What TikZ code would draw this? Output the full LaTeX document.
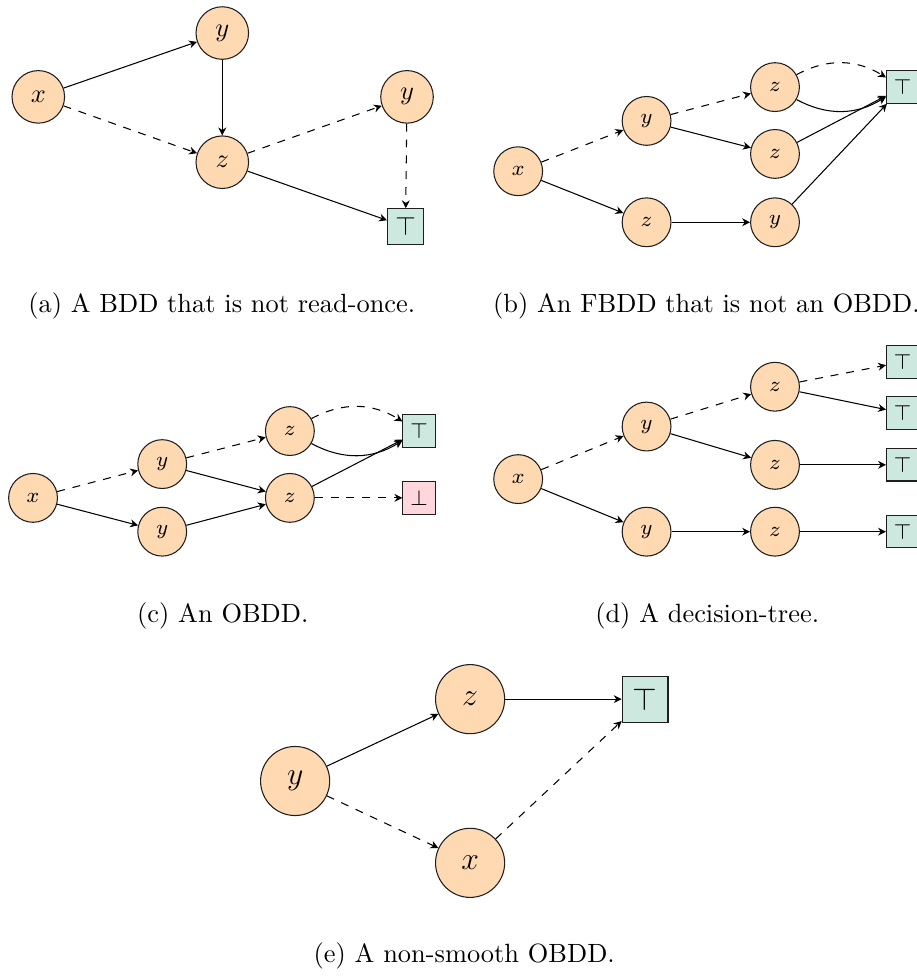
\documentclass[tikz,border=0pt]{standalone}
\usepackage{amsmath,amssymb}
\usepackage{xcolor}
\usepackage{tikz}
\usetikzlibrary{arrows.meta}
\definecolor{outline}{RGB}{30,30,30}
\definecolor{varfill}{RGB}{254,217,178}
\definecolor{topfill}{RGB}{204,232,223}
\definecolor{botfill}{RGB}{255,214,220}

\begin{document}
\begin{tikzpicture}[
  var/.style={circle,draw=outline,fill=varfill,inner sep=0pt,
              minimum size=0.65cm,font=\footnotesize},
  leaf/.style={rectangle,draw=outline,fill=topfill,inner sep=0pt,
               minimum size=0.43cm,font=\footnotesize},
  hi/.style={-{Stealth[length=3pt,width=3pt]}},
  lo/.style={-{Stealth[length=3pt,width=3pt]},dashed},
  caption/.style={anchor=base west,inner sep=0pt}
]
\useasboundingbox (0,0) rectangle (12.21,-13.05);
% (a) BDD, not read-once
\begin{scope}[var/.append style={minimum size=0.7cm,font=\normalsize},
              leaf/.append style={minimum size=0.48cm,font=\normalsize}]
  \node[var] (ax) at (0.51,-1.29) {$x$};
  \node[var] (ay) at (2.96,-0.44) {$y$};
  \node[var] (az) at (2.96,-2.16) {$z$};
  \node[var] (ay2) at (5.42,-1.29) {$y$};
  \node[leaf] (aT) at (5.40,-3.02) {$\top$};
  \draw[hi] (ax) -- (ay);
  \draw[lo] (ax) -- (az);
  \draw[hi] (ay) -- (az);
  \draw[lo] (az) -- (ay2);
  \draw[lo] (ay2) -- (aT);
  \draw[hi] (az) -- (aT);
\end{scope}
\node[caption] (capa) at (0.37,-4.16) {(a) A BDD that is not read-once.};
% (b) FBDD
\node[var] (bx) at (6.90,-2.28) {$x$};
\node[var] (by) at (8.61,-1.61) {$y$};
\node[var] (bz) at (8.61,-2.96) {$z$};
\node[var] (bz1) at (10.32,-1.16) {$z$};
\node[var] (bz2) at (10.32,-2.05) {$z$};
\node[var] (by2) at (10.32,-2.96) {$y$};
\node[leaf] (bT) at (12.02,-1.16) {$\top$};
\draw[lo] (bx) -- (by);
\draw[hi] (bx) -- (bz);
\draw[lo] (by) -- (bz1);
\draw[hi] (by) -- (bz2);
\draw[hi] (bz) -- (by2);
\draw[lo] (bz1) to[bend left=30] (bT);
\draw[hi] (bz1) to[bend right=30] (bT);
\draw[hi] (bz2) -- (bT);
\draw[hi] (by2) -- (bT);
\node[caption] (capb) at (6.56,-4.16) {(b) An FBDD that is not an OBDD.};
% (c) OBDD
\node[var] (cx) at (0.44,-6.63) {$x$};
\node[var] (cy1) at (2.16,-6.18) {$y$};
\node[var] (cy2) at (2.16,-7.08) {$y$};
\node[var] (cz1) at (3.86,-5.74) {$z$};
\node[var] (cz2) at (3.86,-6.63) {$z$};
\node[leaf] (cT) at (5.58,-5.74) {$\top$};
\node[leaf,fill=botfill] (cB) at (5.58,-6.63) {$\bot$};
\draw[lo] (cx) -- (cy1);
\draw[hi] (cx) -- (cy2);
\draw[lo] (cy1) -- (cz1);
\draw[hi] (cy1) -- (cz2);
\draw[hi] (cy2) -- (cz2);
\draw[lo] (cz1) to[bend left=30] (cT);
\draw[hi] (cz1) to[bend right=30] (cT);
\draw[hi] (cz2) -- (cT);
\draw[lo] (cz2) -- (cB);
\node[caption] (capc) at (1.82,-8.29) {(c) An OBDD.};
% (d) decision tree
\node[var] (dx) at (6.90,-6.38) {$x$};
\node[var] (dy1) at (8.61,-5.68) {$y$};
\node[var] (dy2) at (8.61,-7.08) {$y$};
\node[var] (dz1) at (10.32,-5.15) {$z$};
\node[var] (dz2) at (10.32,-6.19) {$z$};
\node[var] (dz3) at (10.32,-7.08) {$z$};
\node[leaf] (dT1) at (12.02,-4.82) {$\top$};
\node[leaf] (dT2) at (12.02,-5.50) {$\top$};
\node[leaf] (dT3) at (12.02,-6.19) {$\top$};
\node[leaf] (dT4) at (12.02,-7.08) {$\top$};
\draw[lo] (dx) -- (dy1);
\draw[hi] (dx) -- (dy2);
\draw[lo] (dy1) -- (dz1);
\draw[hi] (dy1) -- (dz2);
\draw[lo] (dz1) -- (dT1);
\draw[hi] (dz1) -- (dT2);
\draw[hi] (dz2) -- (dT3);
\draw[hi] (dy2) -- (dz3);
\draw[hi] (dz3) -- (dT4);
\node[caption] (capd) at (7.92,-8.29) {(d) A decision-tree.};
% (e) non-smooth OBDD
\begin{scope}[var/.append style={minimum size=0.92cm,font=\large},
              leaf/.append style={minimum size=0.61cm,font=\large}]
  \node[var] (ey) at (3.93,-10.40) {$y$};
  \node[var] (ez) at (6.26,-9.31) {$z$};
  \node[var] (ex) at (6.26,-11.49) {$x$};
  \node[leaf] (eT) at (8.59,-9.31) {$\top$};
  \draw[hi] (ey) -- (ez);
  \draw[lo] (ey) -- (ex);
  \draw[hi] (ez) -- (eT);
  \draw[lo] (ex) -- (eT);
\end{scope}
\node[caption] (cape) at (4.17,-12.82) {(e) A non-smooth OBDD.};
\end{tikzpicture}
\end{document}
